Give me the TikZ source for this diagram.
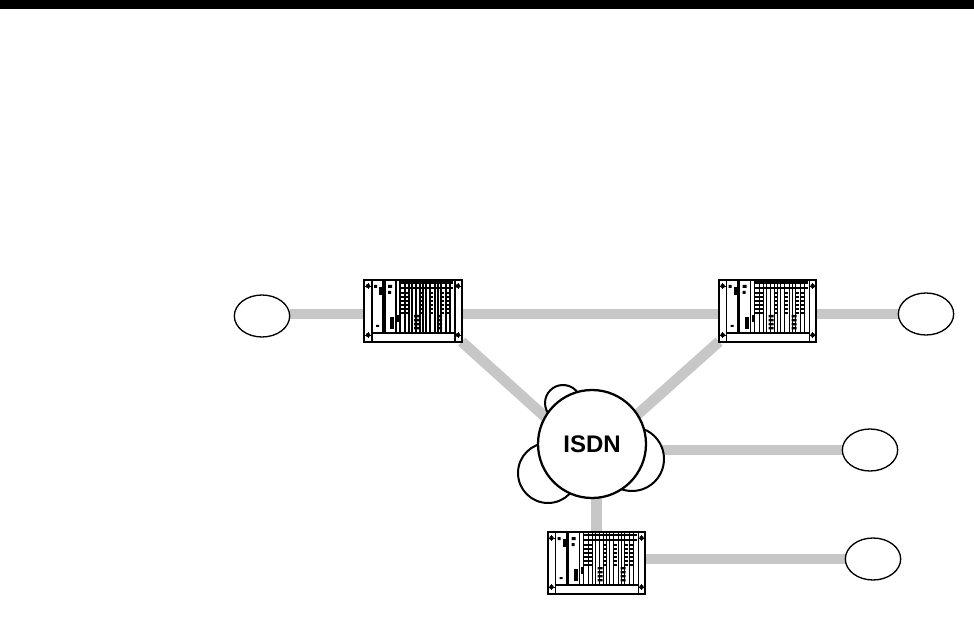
\documentclass[tikz,border=0pt]{standalone}
\usepackage{fontspec}
\setmainfont{Liberation Sans}
\usetikzlibrary{positioning, backgrounds, shapes.geometric}

\tikzset{
  pics/rackunit/.style={code={
    % panels and base strip
    \draw[line width=1pt] (-41,-31) -- (-41,22) (-28,-31) -- (-28,22) (-17,-31) -- (-17,22);
    \draw[line width=1pt] (-41,22) -- (42,22) (42,-31) -- (42,31) (-41,22) -- (-41,31);
    \fill (-31,-31) rectangle (-28,22);
    \fill (-34,-24) rectangle (-30,-16);
    \fill (-16,4) rectangle (-13,11);
    \fill (-23,6) rectangle (-19,18);
    \fill (-39,-26) rectangle (-36,-23) (-37,14) rectangle (-34,16);
    \fill (-25,-26) rectangle (-21,-23) (-25,-20) rectangle (-22,-17);
    % cards
    \foreach \cx in {-13,-8,-4,-1,3,7,10,13,17,22,25,28,33,37}
      \draw[line width=1pt] (\cx,-31) -- (\cx,22);
    \fill (-13,-29.5) rectangle (40,-27);
    \fill (-13,-24) rectangle (40,-22);
    \foreach \cx in {-11,-7,8,18,29,35}
      \foreach \cy in {-19,-15,-11,-7,-3,1}
        \fill (\cx-2,\cy) rectangle (\cx+2,\cy+2.2);
    \foreach \cy in {4,8,12,16}
      \fill (1,\cy) rectangle (6,\cy+2.4) (24,\cy) rectangle (29,\cy+2.4);
    % screws
    \foreach \sx/\sy in {-45/-25,-45/24,45/-25,45/24}{
      \fill (\sx,\sy) circle (2.2);
      \draw[line width=0.5pt] (\sx-3,\sy) -- (\sx+3,\sy) (\sx,\sy-3) -- (\sx,\sy+3);
    }
  }},
  rack/.style={rectangle, draw, line width=1.5pt, minimum width=73pt, minimum height=46pt,
               outer sep=0pt, inner sep=0pt},
  station/.style={ellipse, draw, line width=1pt, minimum width=41.5pt, minimum height=31.5pt,
                  outer sep=0pt, inner sep=0pt},
  bump/.style={draw, line width=1.5pt, fill=white},
  link/.style={line width=8pt, color=black!22}
}

\begin{document}
\begin{tikzpicture}[x=0.75pt, y=-0.75pt, node distance=10mm and 20mm]
  \useasboundingbox (0,0) rectangle (974,623);
  \fill (0,0) rectangle (974,9);

  \node[rack] (R1) at (413,311) {};
  \node[rack, right=193pt of R1] (R2) {};
  \node[rack] (R3) at (596.5,563) {};

  \node[circle, draw, line width=1.7pt, fill=white, minimum size=81pt, inner sep=0pt, outer sep=0pt,
        font=\fontsize{18}{18}\selectfont\bfseries] (ISDN) at (592,444) {ISDN};

  \node[station] (S1) at (262,316) {};
  \node[station] (S2) at (926,314) {};
  \node[station] (S3) at (870,450) {};
  \node[station] (S4) at (873,559) {};
  \coordinate (bus) at (0,314);

  \pic at (R1) {rackunit};
  \pic at (R2) {rackunit};
  \pic at (R3) {rackunit};

  \begin{scope}[on background layer]
    \draw[link] (S1.east |- bus) -- (R1.west |- bus);
    \draw[link] (R1.east |- bus) -- (R2.west |- bus);
    \draw[link] (R2.east |- bus) -- (S2.west |- bus);
    \draw[link] (R1.south east) -- (ISDN.150);
    \draw[link] (R2.south west) -- (ISDN.33);
    \draw[link] (ISDN.east |- S3.west) -- (S3.west);
    \draw[link] (ISDN.south -| R3.north) -- (R3.north);
    \draw[link] (R3.east |- S4.west) -- (S4.west);
    % cloud lobes behind the circle
    \draw[bump] (563,403) circle (18);
    \draw[bump] (548,473) circle (30);
    \draw[bump] (632,459) circle (32);
  \end{scope}
\end{tikzpicture}
\end{document}
